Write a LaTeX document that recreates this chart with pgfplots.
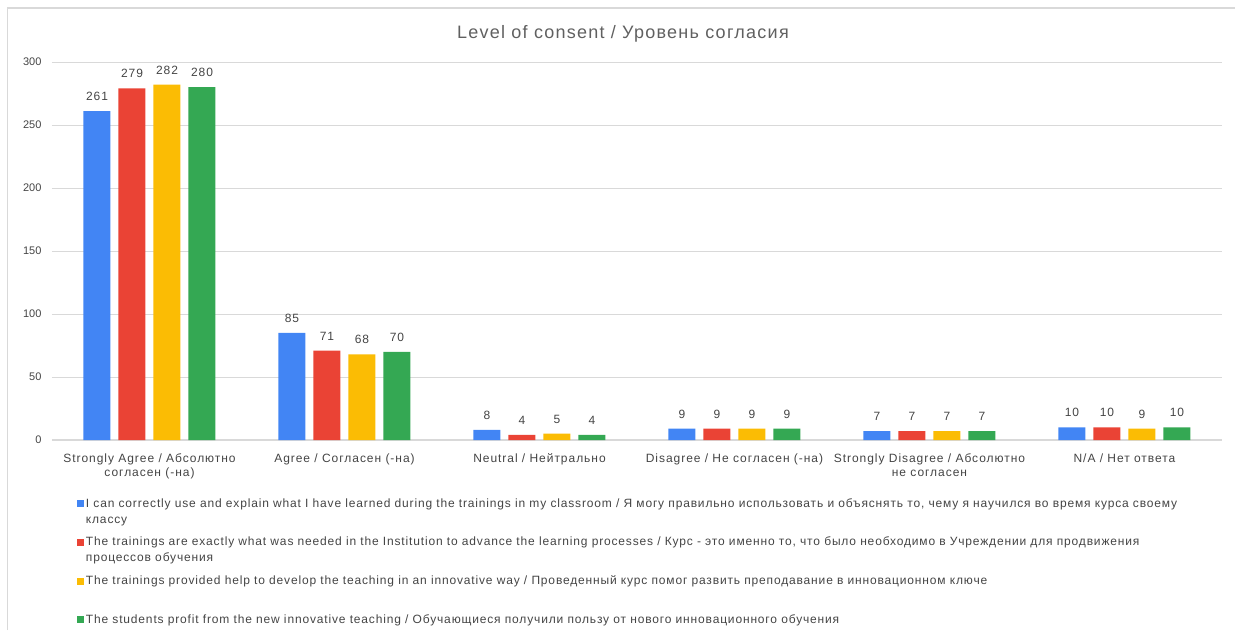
\documentclass[border=0pt]{standalone}
\usepackage{pgfplots}
\pgfplotsset{compat=1.18}
\usepackage{fontspec}
\setmainfont{Liberation Sans}
\newfontfamily\legfont{Liberation Sans}[LetterSpace=7]
\newfontfamily\labfont{Liberation Sans}[LetterSpace=8]
\definecolor{cblue}{HTML}{4285F4}
\definecolor{cred}{HTML}{EA4335}
\definecolor{cyellow}{HTML}{FBBC04}
\definecolor{cgreen}{HTML}{34A853}
\definecolor{txt}{HTML}{444444}
\definecolor{gridc}{HTML}{D9D9D9}
\begin{document}
\begin{tikzpicture}[x=1pt,y=1pt]
\begin{axis}[
  name=ax, scale only axis,
  width=1170pt, height=378pt,
  xmin=-0.5, xmax=5.5, ymin=0, ymax=300,
  ybar=8pt, bar width=27pt,
  axis line style={draw=none},
  major tick length=0pt,
  xtick={0,1,2,3,4,5},
  xticklabels={{Strongly Agree / Абсолютно\\согласен (-на)},{Agree / Согласен (-на)},{Neutral / Нейтрально},{Disagree / Не согласен (-на)},{Strongly Disagree / Абсолютно\\не согласен},{N/A / Нет ответа}},
  x tick label style={align=center, text=txt, font=\fontsize{12}{14}\selectfont\labfont, yshift=-10pt},
  ytick={0,50,...,300},
  y tick label style={text=txt, font=\fontsize{11}{13}\selectfont, xshift=-7pt},
  /pgf/number format/assume math mode=true,
  ymajorgrids, grid style={gridc, line width=1pt},
  extra y ticks={0}, extra y tick labels={},
  extra y tick style={grid style={gridc, line width=2pt}},
  nodes near coords,
  every node near coord/.append style={text=txt, font=\fontsize{12}{14}\selectfont\labfont, yshift=7pt},
  legend style={at={(0.019,-0.137)}, anchor=north west, draw=none, fill=none,
    font=\fontsize{12}{16}\selectfont\legfont, text=txt, row sep=22pt,
    cells={anchor=base west}},
  legend image code/.code={\fill[#1,draw=none] (0pt,0pt) rectangle (6.5pt,7pt);},
]
\addplot[fill=cblue, draw=none] coordinates {(0,261) (1,85) (2,8) (3,9) (4,7) (5,10)};
\addplot[fill=cred, draw=none] coordinates {(0,279) (1,71) (2,4) (3,9) (4,7) (5,10)};
\addplot[fill=cyellow, draw=none] coordinates {(0,282) (1,68) (2,5) (3,9) (4,7) (5,9)};
\addplot[fill=cgreen, draw=none] coordinates {(0,280) (1,70) (2,4) (3,9) (4,7) (5,10)};
\legend{
  {\parbox[t]{1120pt}{\strut I can correctly use and explain what I have learned during the trainings in my classroom / Я могу правильно использовать и объяснять то, чему я научился во время курса своему\\\strut классу}},
  {\parbox[t]{1120pt}{\strut The trainings are exactly what was needed in the Institution to advance the learning processes / Курс - это именно то, что было необходимо в Учреждении для продвижения\\\strut процессов обучения}},
  {\parbox[t]{1120pt}{\strut The trainings provided help to develop the teaching in an innovative way / Проведенный курс помог развить преподавание в инновационном ключе\\\strut}},
  {\parbox[t]{1120pt}{\strut The students profit from the new innovative teaching / Обучающиеся получили пользу от нового инновационного обучения}}
}
\end{axis}
\begin{scope}[shift={(ax.south west)}]
\path[use as bounding box] (-52,-190) rectangle (1183,440);
\draw[gridc, line width=1.2pt] (-44.5,-190) -- (-44.5,432) -- (1183,432);
\node[text=txt!85, font=\fontsize{18}{20}\selectfont\legfont] at (571,406) {Level of consent / Уровень согласия};
\end{scope}
\end{tikzpicture}
\end{document}
